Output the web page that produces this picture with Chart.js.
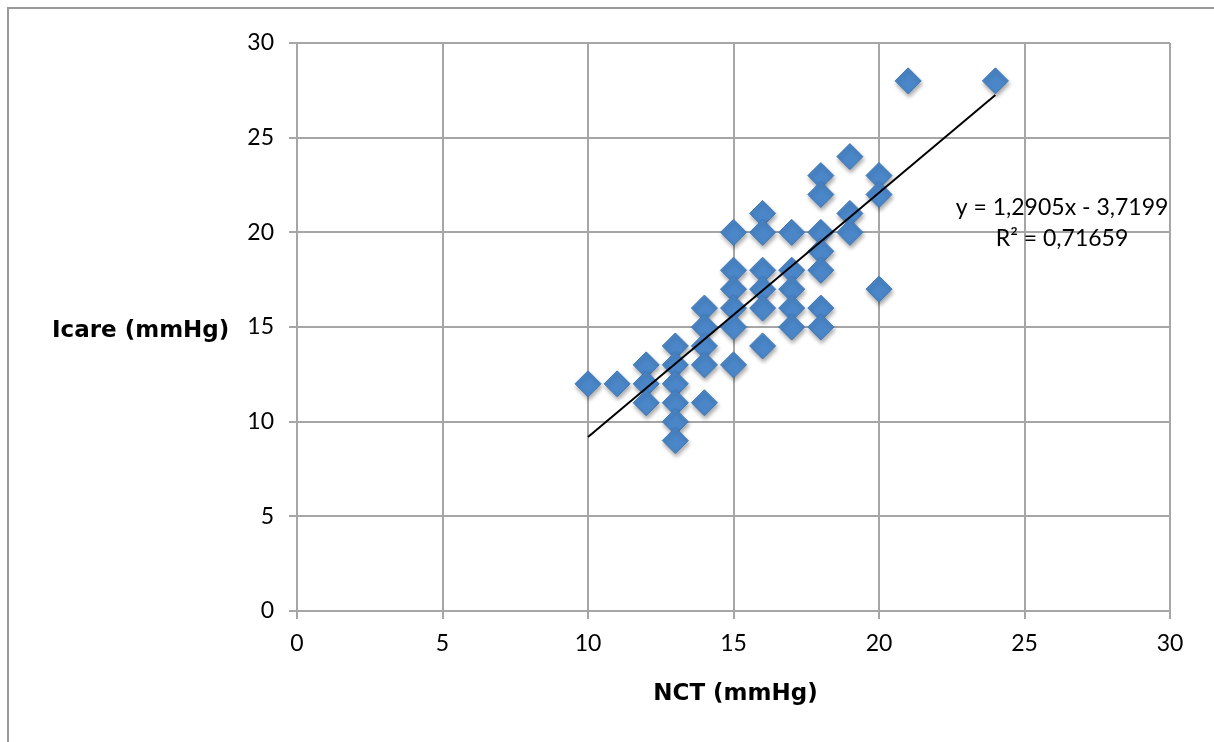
<!DOCTYPE html>
<html>
<head>
<meta charset="utf-8">
<title>Icare x NCT</title>
<script src="https://cdn.jsdelivr.net/npm/chart.js@4"></script>
<style>
  html, body { margin: 0; padding: 0; background: #fff; overflow: hidden; }
  #moldura {
    position: absolute; left: 7px; top: 7px;
    width: 1300px; height: 900px;
    border: 2px solid #999;
  }
  #myChart { position: absolute; left: 0; top: 0; }
</style>
</head>
<body>
<div id="moldura"></div>
<canvas id="myChart" width="1214" height="742"></canvas>
<script>
// ------- Dados -------
const nct = [10, 11, 12, 12, 12, 13, 13, 13, 13, 13, 13, 14, 14, 14, 14, 14,
  15, 15, 15, 15, 15, 15, 16, 16, 16, 16, 16, 16, 17, 17, 17, 17, 17,
  18, 18, 18, 18, 18, 18, 18, 19, 19, 19, 20, 20, 20, 21, 24];
const icare = [12, 12, 13, 12, 11, 14, 13, 12, 11, 10, 9, 16, 15, 14, 13, 11,
  20, 18, 17, 16, 15, 13, 21, 20, 18, 17, 16, 14, 20, 18, 17, 16, 15,
  23, 22, 20, 19, 18, 16, 15, 24, 21, 20, 23, 22, 17, 28, 28];

// linha de tendência (extremos)
const trendX = [10, 24];
const trendY = [9.19, 27.25];
const trendLabels = ['y = 1,2905x - 3,7199', 'R² = 0,71659'];

const xTicks = [0, 5, 10, 15, 20, 25, 30];
const yTicks = [0, 5, 10, 15, 20, 25, 30];

const FONTE = 'Lato, "Open Sans", sans-serif';
const FONTE_TITULO = '"DejaVu Sans", sans-serif';
const CINZA = '#a6a6a6';

// ------- Plugins -------
// sombra nos losangos
const sombraPlugin = {
  id: 'sombra',
  beforeDatasetDraw(chart, args) {
    if (args.index !== 1) return;
    const ctx = chart.ctx;
    ctx.save();
    ctx.shadowColor = 'rgba(0,0,0,0.35)';
    ctx.shadowBlur = 4;
    ctx.shadowOffsetX = 1;
    ctx.shadowOffsetY = 3;
  },
  afterDatasetDraw(chart, args) {
    if (args.index !== 1) return;
    chart.ctx.restore();
  }
};

// títulos dos eixos + equação
const textosPlugin = {
  id: 'textos',
  afterDraw(chart) {
    const ctx = chart.ctx;
    const xs = chart.scales.x;
    const ys = chart.scales.y;
    ctx.save();
    ctx.fillStyle = '#000';
    ctx.textBaseline = 'alphabetic';

    ctx.font = 'bold 23px ' + FONTE_TITULO;
    ctx.textAlign = 'left';
    ctx.fillText('Icare (mmHg)', 52, 337);
    ctx.textAlign = 'center';
    ctx.fillText('NCT (mmHg)', (xs.left + xs.right) / 2 + 2, 700);

    ctx.font = '23px ' + FONTE;
    ctx.fillText(trendLabels[0], xs.getPixelForValue(26.29), ys.getPixelForValue(20.92));
    ctx.fillText(trendLabels[1], xs.getPixelForValue(26.29), ys.getPixelForValue(19.28));
    ctx.restore();
  }
};

// ------- Gráfico -------
function createChart() {
  const ctx = document.getElementById('myChart').getContext('2d');
  const pontos = nct.map((x, i) => ({ x, y: icare[i] }));
  const tendencia = trendX.map((x, i) => ({ x, y: trendY[i] }));

  return new Chart(ctx, {
    type: 'scatter',
    data: {
      datasets: [{
        type: 'line',
        label: 'Tendência',
        data: tendencia,
        borderColor: '#000',
        borderWidth: 2,
        pointRadius: 0,
        fill: false,
        order: 0
      }, {
        label: 'Icare',
        data: pontos,
        pointStyle: 'rectRot',
        pointRadius: 13,
        pointHoverRadius: 13,
        backgroundColor: '#4A86C8',
        borderColor: '#3F78B8',
        borderWidth: 1,
        order: 1
      }]
    },
    options: {
      responsive: false,
      animation: false,
      events: [],
      layout: { padding: { top: 43, right: 44, left: 0, bottom: 0 } },
      plugins: {
        legend: { display: false },
        tooltip: { enabled: false }
      },
      scales: {
        x: {
          type: 'linear',
          min: 0, max: 30,
          afterBuildTicks: s => { s.ticks = xTicks.map(v => ({ value: v })); },
          afterFit: s => { s.height = 131; },
          grid: { color: CINZA, lineWidth: 2, tickLength: 8, tickColor: CINZA },
          border: { color: CINZA, width: 2 },
          ticks: { color: '#000', font: { family: FONTE, size: 23 }, padding: 11, maxRotation: 0 }
        },
        y: {
          type: 'linear',
          min: 0, max: 30,
          afterBuildTicks: s => { s.ticks = yTicks.map(v => ({ value: v })); },
          afterFit: s => { s.width = 297; },
          grid: { color: CINZA, lineWidth: 2, tickLength: 8, tickColor: CINZA },
          border: { color: CINZA, width: 2 },
          ticks: { color: '#000', font: { family: FONTE, size: 23 }, padding: 15 }
        }
      }
    },
    plugins: [sombraPlugin, textosPlugin]
  });
}

document.addEventListener('DOMContentLoaded', function () {
  createChart();
});
</script>
</body>
</html>
